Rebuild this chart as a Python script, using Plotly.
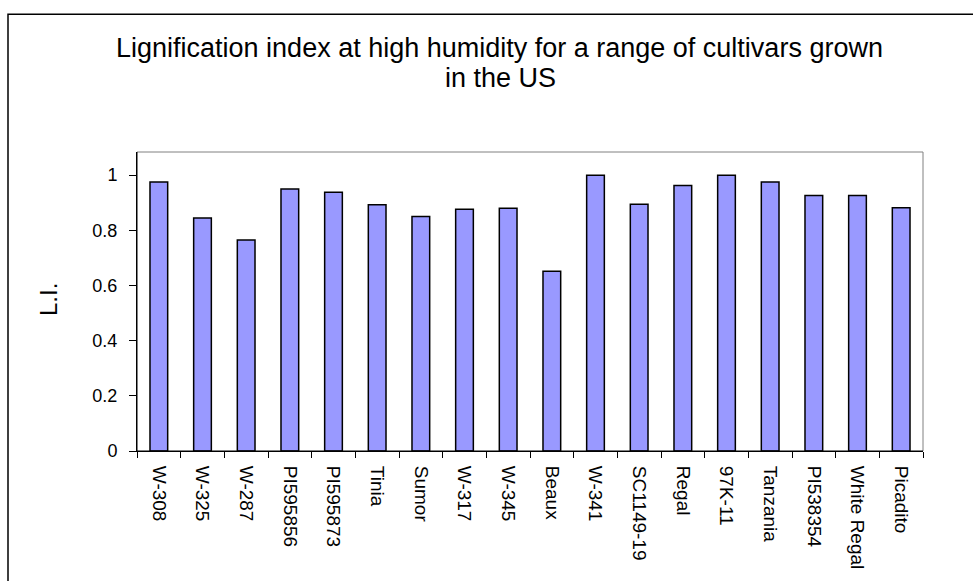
import plotly.graph_objects as go

# Cultivars and their lignification index (L.I.) at high humidity
cultivars = ["W-308", "W-325", "W-287", "PI595856", "PI595873", "Tinia", "Sumor",
             "W-317", "W-345", "Beaux", "W-341", "SC1149-19", "Regal", "97K-11",
             "Tanzania", "PI538354", "White Regal", "Picadito"]
li_values = [0.975, 0.845, 0.765, 0.95, 0.938, 0.893, 0.85,
             0.876, 0.88, 0.652, 1.0, 0.895, 0.963, 1.0,
             0.975, 0.926, 0.926, 0.882]
y_ticks = [0, 0.2, 0.4, 0.6, 0.8, 1.0]

W, H = 973, 581
L, R, T, B = 137, 50, 152, 126
pw, ph = W - L - R, H - T - B


def px_x(x):
    return (x - L) / pw


def px_y(y):
    return (H - B - y) / ph


FONT = "Liberation Sans, Arial, sans-serif"

fig = go.Figure(go.Bar(
    x=cultivars, y=li_values,
    marker=dict(color="#9999FF", line=dict(color="black", width=1.5)),
))

fig.update_layout(
    width=W, height=H,
    margin=dict(l=L, r=R, t=T, b=B),
    paper_bgcolor="white", plot_bgcolor="white",
    bargap=0.595,
    showlegend=False,
    font=dict(family=FONT, color="black"),
    xaxis=dict(
        type="category", tickangle=90, tickson="boundaries",
        ticks="outside", ticklen=6, tickcolor="black", tickwidth=1,
        ticklabelstandoff=10,
        showline=True, linecolor="black", linewidth=1,
        showgrid=False, tickfont=dict(size=19, family=FONT),
    ),
    yaxis=dict(
        range=[0, 1.084], tickvals=y_ticks, ticktext=["0", "0.2", "0.4", "0.6", "0.8", "1"],
        ticks="outside", ticklen=7, tickcolor="black", tickwidth=1,
        ticklabelstandoff=8,
        showline=True, linecolor="black", linewidth=1,
        showgrid=False, zeroline=False, tickfont=dict(size=18, family=FONT),
    ),
    shapes=[
        # outer chart frame
        dict(type="rect", xref="paper", yref="paper",
             x0=px_x(8), x1=px_x(1000), y0=px_y(600), y1=px_y(12.5),
             line=dict(color="black", width=1.5)),
        # plot-area border (top and right)
        dict(type="line", xref="paper", yref="paper", x0=0, x1=1, y0=1, y1=1,
             line=dict(color="#808080", width=1)),
        dict(type="line", xref="paper", yref="paper", x0=1, x1=1, y0=0, y1=1,
             line=dict(color="#808080", width=1)),
        # value axis and category axis lines
        dict(type="line", xref="paper", yref="paper", x0=0, x1=0, y0=0, y1=1,
             line=dict(color="black", width=1), layer="above"),
        dict(type="line", xref="paper", yref="paper", x0=0, x1=1, y0=0, y1=0,
             line=dict(color="black", width=1), layer="above"),
    ],
    annotations=[
        dict(text="Lignification index at high humidity for a range of cultivars grown",
             xref="paper", yref="paper", x=px_x(499), y=px_y(47),
             xanchor="center", yanchor="middle", showarrow=False,
             font=dict(size=27, family=FONT)),
        dict(text="in the US",
             xref="paper", yref="paper", x=px_x(500), y=px_y(77),
             xanchor="center", yanchor="middle", showarrow=False,
             font=dict(size=27, family=FONT)),
        dict(text="L.I.", textangle=-90,
             xref="paper", yref="paper", x=px_x(48), y=px_y(302),
             xanchor="center", yanchor="middle", showarrow=False,
             font=dict(size=24, family=FONT)),
    ],
)

fig.write_html("out.html")
